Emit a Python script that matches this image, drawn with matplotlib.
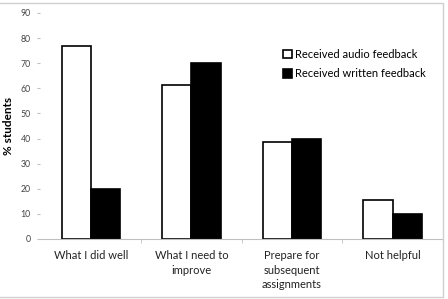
import matplotlib.pyplot as plt
import numpy as np
from matplotlib.patches import Rectangle

categories = ["What I did well", "What I need to\nimprove", "Prepare for\nsubsequent\nassignments", "Not helpful"]
audio_pct = [76.9, 61.5, 38.5, 15.4]
written_pct = [20, 70, 40, 10]
series_labels = ["Received audio feedback", "Received written feedback"]

plt.rcParams["font.family"] = ["Lato", "DejaVu Sans"]

fig = plt.figure(figsize=(4.48, 2.99), dpi=100)
ax = fig.add_axes([0.0904, 0.2007, 0.898, 0.756])

x = np.arange(len(categories))
width = 0.29
b1 = ax.bar(x - width / 2, audio_pct, width, color="white", edgecolor="black", linewidth=1.2,
            label=series_labels[0])
b2 = ax.bar(x + width / 2, written_pct, width, color="black", edgecolor="black", linewidth=1.2,
            label=series_labels[1])

ax.set_xlim(-0.5, len(categories) - 0.5)
ax.set_ylim(0, 90)
ax.set_yticks(range(0, 91, 10))
ax.set_xticks(x, categories)
for lbl in ax.get_xticklabels():
    lbl.set_linespacing(1.4)
ax.set_xticks(np.arange(0.5, len(categories) - 0.5), minor=True)
ax.tick_params(axis="x", which="major", length=0, labelsize=8, pad=8, colors="#222222")
ax.tick_params(axis="x", which="minor", length=3, color="#bfbfbf", direction="out")
ax.tick_params(axis="y", length=2.5, color="#bfbfbf", labelsize=6.3, pad=4.5, labelcolor="#444444")

for side in ["top", "right", "left"]:
    ax.spines[side].set_visible(False)
ax.spines["bottom"].set_color("#bfbfbf")

ax.set_ylabel("% students", fontsize=8.5, fontweight="bold", labelpad=5)

leg = ax.legend(loc="upper left", bbox_to_anchor=(0.592, 0.86), frameon=False, fontsize=8,
                handlelength=0.8, handleheight=0.8, handletextpad=0.3, labelspacing=0.75,
                borderaxespad=0)

fig.add_artist(Rectangle((-0.01, 2 / 299), 443 / 448 + 0.01, 294 / 299, transform=fig.transFigure,
                         fill=False, edgecolor="#d0d0d0", linewidth=1))

fig.savefig("out.png", dpi=100)
